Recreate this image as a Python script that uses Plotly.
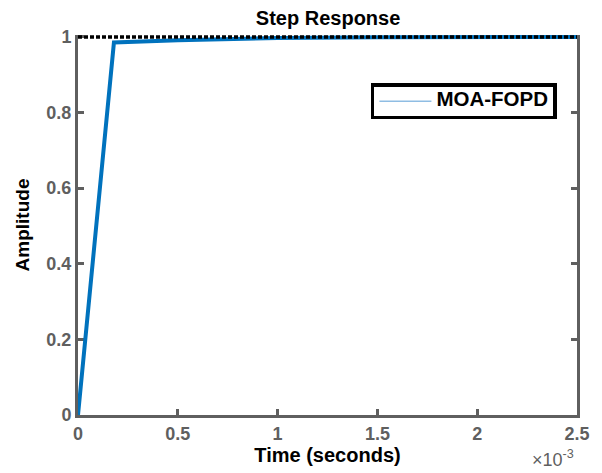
import plotly.graph_objects as go

# Step response samples (time in seconds, amplitude)
time_s = [0.0, 0.00018, 0.0005, 0.001, 0.0015, 0.002, 0.0025]
amplitude = [0.0, 0.985, 0.991, 0.997, 0.999, 1.0, 1.0]

# Steady-state reference
ref_time = [0.0, 0.0025]
ref_value = [1.0, 1.0]

x_tickvals = [0.0, 0.0005, 0.001, 0.0015, 0.002, 0.0025]
x_ticktext = ["0", "0.5", "1", "1.5", "2", "2.5"]
y_tickvals = [0, 0.2, 0.4, 0.6, 0.8, 1.0]
y_ticktext = ["0", "0.2", "0.4", "0.6", "0.8", "1"]

FONT = "Liberation Sans, Arial, sans-serif"
AXIS_GRAY = "#5f5f5f"

fig = go.Figure()

fig.add_trace(go.Scatter(
    x=time_s, y=amplitude, mode="lines",
    line=dict(color="#0072BD", width=4),
    showlegend=False, hoverinfo="skip",
))

fig.add_trace(go.Scatter(
    x=ref_time, y=ref_value, mode="lines",
    line=dict(color="black", width=3.5, dash="4px,2px"),
    showlegend=False, hoverinfo="skip",
))

# Legend entry
fig.add_trace(go.Scatter(
    x=[None], y=[None], mode="lines",
    line=dict(color="#8fbde3", width=1.5),
    name='<span style="font-size:20.5px"><b>MOA-FOPD</b></span>',
))

axis_common = dict(
    showgrid=False, zeroline=False, layer="below traces",
    showline=True, linecolor=AXIS_GRAY, linewidth=3,
    ticks="inside", ticklen=6, tickwidth=3, tickcolor=AXIS_GRAY,
    tickfont=dict(family=FONT, size=18, color=AXIS_GRAY, weight="bold"),
)

fig.update_layout(
    width=602, height=473,
    margin=dict(l=78, r=18, t=35, b=58),
    paper_bgcolor="white", plot_bgcolor="white",
    title=dict(text="<b>Step Response</b>", x=0.545, xanchor="center",
               y=0.962, yanchor="middle",
               font=dict(family=FONT, size=20, color="black")),
    xaxis=dict(axis_common, mirror=False, range=[0, 0.0025],
               tickvals=x_tickvals, ticktext=x_ticktext,
               title=dict(text="<b>Time (seconds)</b>", standoff=0,
                          font=dict(family=FONT, size=20, color="black"))),
    yaxis=dict(axis_common, mirror="ticks", range=[0, 1.005],
               tickvals=y_tickvals, ticktext=y_ticktext,
               title=dict(text="<b>Amplitude</b>", standoff=12,
                          font=dict(family=FONT, size=19, color="black"))),
    legend=dict(x=0.587, y=0.873, xanchor="left", yanchor="top",
                bordercolor="black", borderwidth=3.5, bgcolor="white",
                itemwidth=52,
                font=dict(family=FONT, size=12, color="black")),
    annotations=[dict(
        text="×10<sup>-3</sup>", xref="paper", yref="paper",
        x=0.998, y=-0.08, xanchor="right", yanchor="top", showarrow=False,
        font=dict(family=FONT, size=18, color=AXIS_GRAY),
    )],
)

fig.write_html("out.html")
